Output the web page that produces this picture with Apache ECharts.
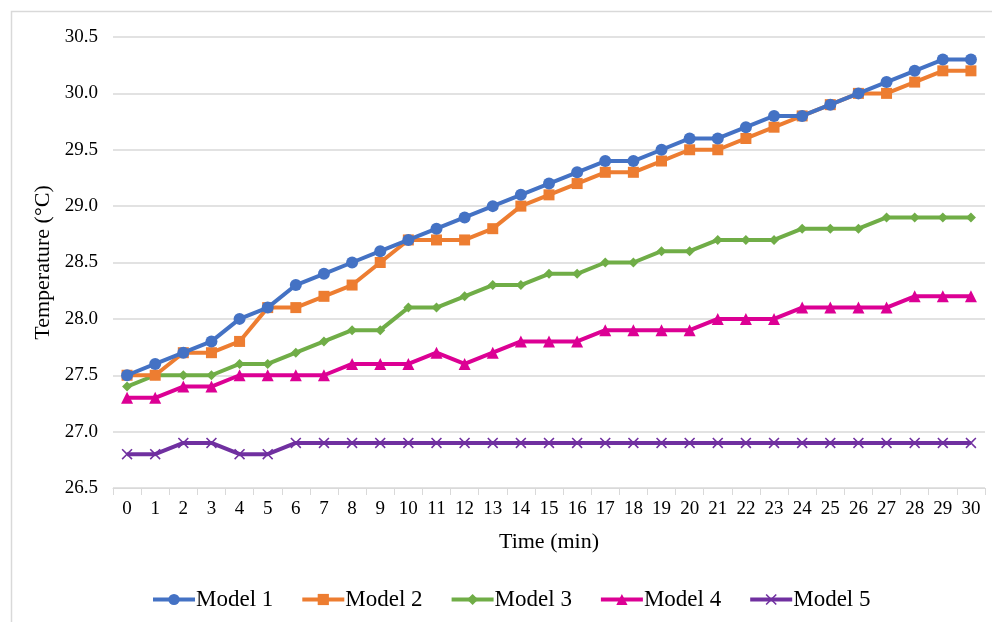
<!DOCTYPE html>
<html>
<head>
<meta charset="utf-8">
<script src="https://cdn.jsdelivr.net/npm/echarts@6/dist/echarts.min.js"></script>
<style>
  html, body { margin: 0; padding: 0; background: #ffffff; }
  #chart { width: 992px; height: 622px; }
</style>
</head>
<body>
<div id="chart"></div>
<script>
// Time steps (minutes)
const minutes = ['0','1','2','3','4','5','6','7','8','9','10','11','12','13','14','15','16','17','18','19','20','21','22','23','24','25','26','27','28','29','30'];

// Temperature readings (°C) for each model
const model1 = [27.5,27.6,27.7,27.8,28.0,28.1,28.3,28.4,28.5,28.6,28.7,28.8,28.9,29.0,29.1,29.2,29.3,29.4,29.4,29.5,29.6,29.6,29.7,29.8,29.8,29.9,30.0,30.1,30.2,30.3,30.3];
const model2 = [27.5,27.5,27.7,27.7,27.8,28.1,28.1,28.2,28.3,28.5,28.7,28.7,28.7,28.8,29.0,29.1,29.2,29.3,29.3,29.4,29.5,29.5,29.6,29.7,29.8,29.9,30.0,30.0,30.1,30.2,30.2];
const model3 = [27.4,27.5,27.5,27.5,27.6,27.6,27.7,27.8,27.9,27.9,28.1,28.1,28.2,28.3,28.3,28.4,28.4,28.5,28.5,28.6,28.6,28.7,28.7,28.7,28.8,28.8,28.8,28.9,28.9,28.9,28.9];
const model4 = [27.3,27.3,27.4,27.4,27.5,27.5,27.5,27.5,27.6,27.6,27.6,27.7,27.6,27.7,27.8,27.8,27.8,27.9,27.9,27.9,27.9,28.0,28.0,28.0,28.1,28.1,28.1,28.1,28.2,28.2,28.2];
const model5 = [26.8,26.8,26.9,26.9,26.8,26.8,26.9,26.9,26.9,26.9,26.9,26.9,26.9,26.9,26.9,26.9,26.9,26.9,26.9,26.9,26.9,26.9,26.9,26.9,26.9,26.9,26.9,26.9,26.9,26.9,26.9];

const seriesNames = ['Model 1','Model 2','Model 3','Model 4','Model 5'];

const FONT = '"Liberation Serif", "Times New Roman", serif';
const crossSymbol = 'path://M1,0 L5,4 L9,0 L10,1 L6,5 L10,9 L9,10 L5,6 L1,10 L0,9 L4,5 L0,1 Z';

const styles = [
  { color: '#4472C4', symbol: 'circle',   size: 12 },
  { color: '#ED7D31', symbol: 'rect',     size: 11 },
  { color: '#70AD47', symbol: 'diamond',  size: 10 },
  { color: '#DC0094', symbol: 'triangle', size: 12 },
  { color: '#7030A0', symbol: crossSymbol, size: 11 }
];

const values = [model1, model2, model3, model4, model5];

const chart = echarts.init(document.getElementById('chart'), null, { renderer: 'canvas' });

chart.setOption({
  animation: false,
  backgroundColor: '#ffffff',
  textStyle: { fontFamily: FONT },
  graphic: [{
    type: 'rect',
    left: 9, top: 9,
    shape: { width: 1000, height: 700 },
    style: { fill: 'none', stroke: '#d9d9d9', lineWidth: 1.5 },
    silent: true
  }],
  grid: { left: 113, right: 7, top: 37, bottom: 134, containLabel: false },
  legend: {
    data: seriesNames,
    left: 146,
    top: 583,
    itemWidth: 42,
    itemHeight: 14,
    itemGap: 27,
    lineStyle: { width: 4 },
    textStyle: { fontFamily: FONT, fontSize: 23, color: '#000000', padding: [0, 0, 0, -4] }
  },
  xAxis: {
    type: 'category',
    data: minutes,
    boundaryGap: true,
    name: 'Time (min)',
    nameLocation: 'middle',
    nameGap: 43,
    nameTextStyle: { fontFamily: FONT, fontSize: 22, color: '#000000' },
    axisLine: { lineStyle: { color: '#d9d9d9', width: 1 } },
    axisTick: { show: true, alignWithLabel: false, length: 7, lineStyle: { color: '#d9d9d9' } },
    axisLabel: { fontFamily: FONT, fontSize: 19, color: '#000000', margin: 12, interval: 0 },
    splitLine: { show: false }
  },
  yAxis: {
    type: 'value',
    min: 26.5,
    max: 30.5,
    interval: 0.5,
    name: 'Temperature (°C)',
    nameLocation: 'middle',
    nameGap: 56,
    nameTextStyle: { fontFamily: FONT, fontSize: 22, color: '#000000' },
    axisLine: { show: false },
    axisTick: { show: false },
    axisLabel: {
      fontFamily: FONT, fontSize: 19, color: '#000000', margin: 15,
      formatter: v => v.toFixed(1)
    },
    splitLine: { lineStyle: { color: '#d9d9d9', width: 1.5 } }
  },
  series: values.map((d, i) => ({
    name: seriesNames[i],
    type: 'line',
    data: d,
    symbol: styles[i].symbol,
    symbolSize: styles[i].size,
    showAllSymbol: true,
    lineStyle: { color: styles[i].color, width: 4 },
    itemStyle: { color: styles[i].color, borderWidth: 0 },
    z: 10 - i
  }))
});
</script>
</body>
</html>
